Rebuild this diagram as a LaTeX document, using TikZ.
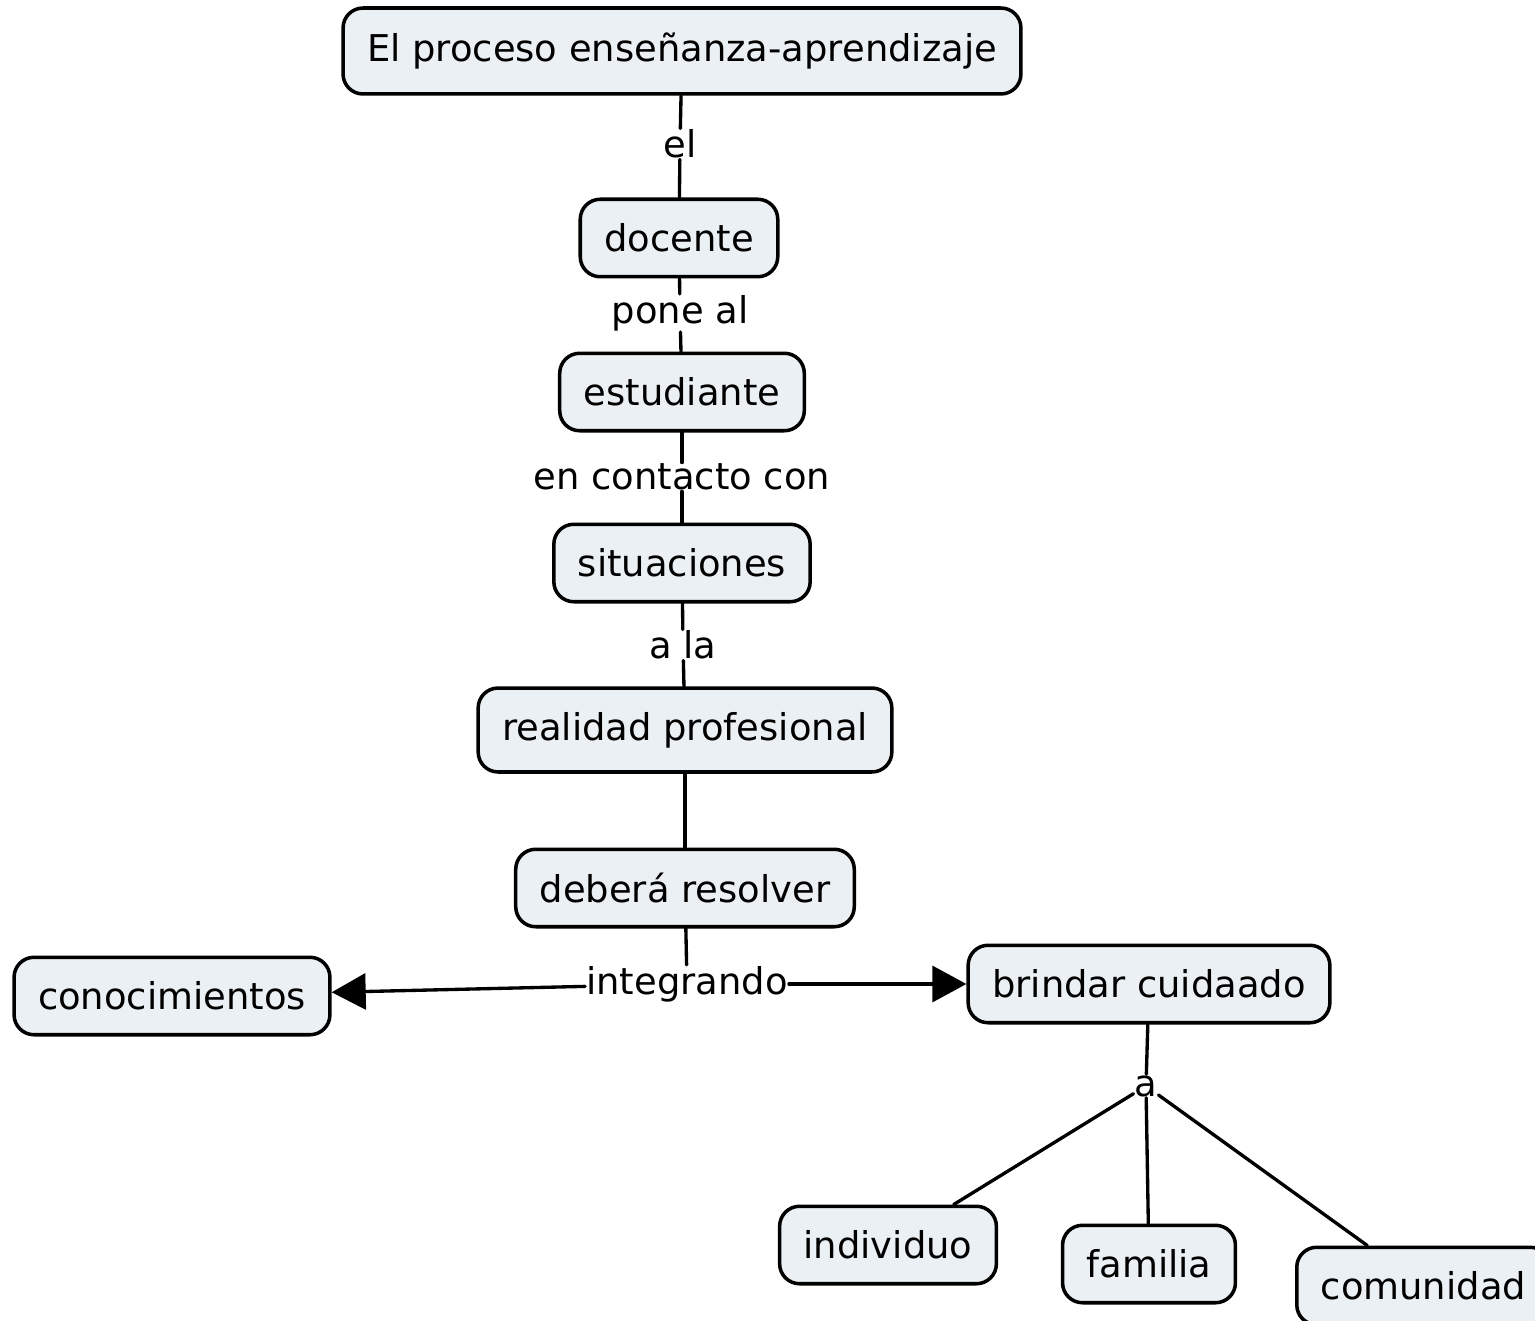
\documentclass[tikz,border=0pt]{standalone}
\usepackage{fontspec}
\setmainfont{DejaVu Sans}
\usetikzlibrary{arrows.meta}
\definecolor{cmapfill}{RGB}{234,240,243}

\begin{document}
\begin{tikzpicture}[x=0.02cm,y=-0.02cm,line cap=round,line join=round,
  concept/.style={draw=black,line width=2pt,fill=cmapfill,rounded corners=0.4cm,
    inner xsep=0.48cm,minimum height=1.55cm,font=\fontsize{21}{25}\selectfont},
  phrase/.style={inner sep=0.5pt,font=\fontsize{21}{25}\selectfont},
  conn/.style={line width=1.9pt},
  >={Triangle[length=0.68cm,width=0.72cm]}]
\useasboundingbox (0,0) rectangle (1535,1321);
\clip (0,0) rectangle (1535,1321);
\fill[white] (0,0) rectangle (1535,1321);

% concepts
\node[concept,minimum height=1.72cm] (proceso) at (682,51) {El proceso enseñanza-aprendizaje};
\node[concept] (docente) at (679,238) {docente};
\node[concept] (estudiante) at (682,392) {estudiante};
\node[concept] (situaciones) at (682,563) {situaciones};
\node[concept,minimum height=1.68cm] (realidad) at (685,730) {realidad profesional};
\node[concept] (resolver) at (685,888) {deberá resolver};
\node[concept] (conoc) at (172,996) {conocimientos};
\node[concept] (cuidado) at (1149,984) {brindar cuidaado};
\node[concept] (individuo) at (888,1245) {individuo};
\node[concept] (familia) at (1149,1264) {familia};
\node[concept,anchor=west] (comunidad) at (1295,1286) {comunidad};

% linking phrases
\node[phrase] (el) at (680,144) {el};
\node[phrase] (poneal) at (680,313) {pone al};
\node[phrase] (contacto) at (682,477) {en contacto con};
\node[phrase] (ala) at (683,645) {a la};
\node[phrase] (integrando) at (687,984) {integrando};
\node[phrase] (a) at (1146,1086) {a};

% connectors
\draw[conn] (proceso) -- (el) -- (docente);
\draw[conn] (docente) -- (poneal) -- (estudiante);
\draw[conn] (estudiante) -- (contacto) -- (situaciones);
\draw[conn] (situaciones) -- (ala) -- (realidad);
\draw[conn] (realidad) -- (resolver);
\draw[conn] (resolver) -- (integrando);
\draw[conn,->] (integrando) -- (conoc);
\draw[conn,->] (integrando) -- (cuidado);
\draw[conn] (cuidado) -- (a);
\draw[conn] (a) -- (individuo);
\draw[conn] (a) -- (familia);
\draw[conn] (a) -- (comunidad);
\end{tikzpicture}
\end{document}
